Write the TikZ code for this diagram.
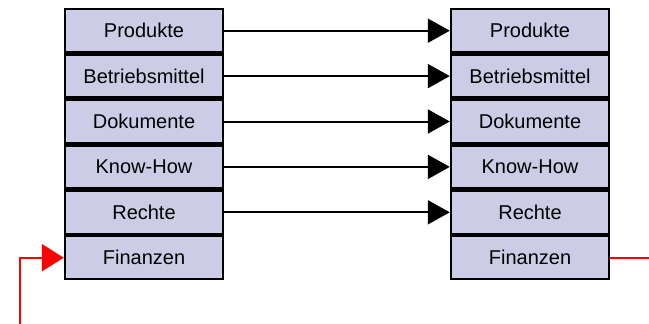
\documentclass[tikz,border=0pt]{standalone}
\usepackage{fontspec}
\setmainfont{Liberation Sans}
\usetikzlibrary{arrows.meta}
\definecolor{boxfill}{RGB}{204,204,230}
\begin{document}
\begin{tikzpicture}[x=1pt,y=-1pt,
  cell/.style={draw=black, line width=2.4pt, fill=boxfill, minimum width=158pt, minimum height=43pt, inner sep=0pt, font=\fontsize{20}{23}\selectfont},
  link/.style={line width=2pt, -{Triangle[length=22pt,width=24pt]}},
  redline/.style={draw=red, line width=2pt}]
\useasboundingbox (0,0) rectangle (649,324);
\foreach \n/\t [count=\i] in {p/Produkte,b/Betriebsmittel,d/Dokumente,k/Know-How,r/Rechte,f/Finanzen}{
  \node[cell] (L\n) at (144,{8+45.4*(\i-0.5)}) {\t};
  \node[cell] (R\n) at (530,{8+45.4*(\i-0.5)}) {\t};
}
\foreach \n in {p,b,d,k,r}{
  \draw[link] (L\n.east) -- (R\n.west);
}
\coordinate (s) at (20,324);
\coordinate (e) at (649,258);
\draw[redline, -{Triangle[length=22pt,width=27pt,fill=red]}] (s) |- (Lf.west);
\draw[redline] (Rf.east) -- (Rf.east -| e);
\end{tikzpicture}
\end{document}
